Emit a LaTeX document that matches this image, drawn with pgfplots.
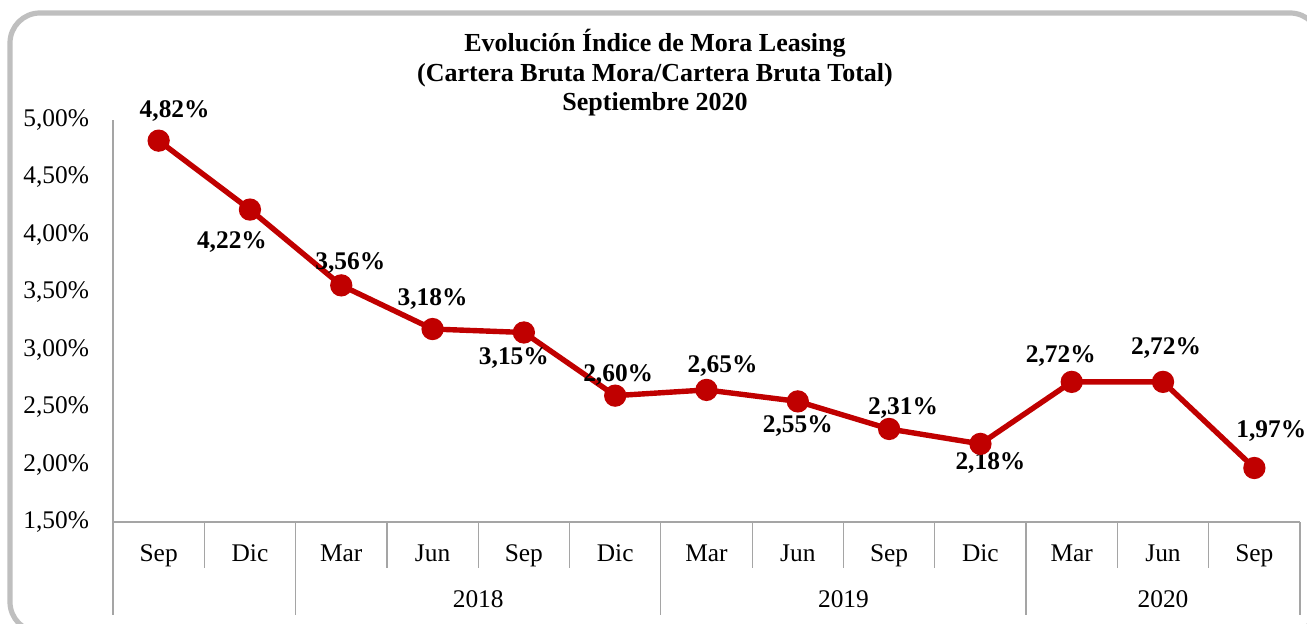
\documentclass[border=0pt]{standalone}
\usepackage{fontspec}
\setmainfont{Liberation Serif}
\usepackage{pgfplots}
\pgfplotsset{compat=1.18}
\definecolor{lred}{RGB}{192,0,0}
\definecolor{bordergray}{RGB}{191,191,191}
\definecolor{axgray}{RGB}{165,165,165}
\begin{document}
\begin{tikzpicture}
\useasboundingbox (0,0) rectangle (653.5pt,312pt);
\begin{scope}
\clip (0,0) rectangle (653.5pt,312pt);
\draw[bordergray, line width=2.6pt, rounded corners=15pt] (5pt,305.5pt) rectangle (660pt,-4pt);
\end{scope}
\node[font=\fontsize{13}{14.75}\selectfont\bfseries, align=center] at (327.5pt,275.5pt)
  {Evolución Índice de Mora Leasing\\(Cartera Bruta Mora/Cartera Bruta Total)\\Septiembre 2020};
\begin{axis}[
  at={(56.5pt,51pt)}, anchor=south west,
  scale only axis, width=593.5pt, height=201pt,
  xmin=-0.5, xmax=12.5, ymin=1.5, ymax=5.0,
  clip=false,
  axis x line*=bottom, axis y line*=left,
  axis line style={axgray, line width=0.6pt, -},
  major tick length=0pt,
  ytick={1.5,2.0,2.5,3.0,3.5,4.0,4.5,5.0},
  yticklabels={{1,50\%},{2,00\%},{2,50\%},{3,00\%},{3,50\%},{4,00\%},{4,50\%},{5,00\%}},
  y tick label style={font=\fontsize{12.7}{14}\selectfont, xshift=-8.5pt},
  xtick={0,1,2,3,4,5,6,7,8,9,10,11,12},
  xticklabels={Sep,Dic,Mar,Jun,Sep,Dic,Mar,Jun,Sep,Dic,Mar,Jun,Sep},
  x tick label style={font=\fontsize{12.7}{14}\selectfont, anchor=base, yshift=-20pt},
]
\addplot[lred, line width=2.7pt, mark=*, mark size=4.2pt, mark options={fill=lred, draw=lred}]
  coordinates {(0,4.82) (1,4.22) (2,3.56) (3,3.18) (4,3.15) (5,2.60) (6,2.65) (7,2.55) (8,2.31) (9,2.18) (10,2.72) (11,2.72) (12,1.97)};
% separators
\draw[axgray, line width=0.6pt] (axis cs:-0.5,1.5) -- ++(0pt,-46.5pt);
\draw[axgray, line width=0.6pt] (axis cs:0.5,1.5) -- ++(0pt,-23pt);
\draw[axgray, line width=0.6pt] (axis cs:1.5,1.5) -- ++(0pt,-46.5pt);
\draw[axgray, line width=0.6pt] (axis cs:2.5,1.5) -- ++(0pt,-23pt);
\draw[axgray, line width=0.6pt] (axis cs:3.5,1.5) -- ++(0pt,-23pt);
\draw[axgray, line width=0.6pt] (axis cs:4.5,1.5) -- ++(0pt,-23pt);
\draw[axgray, line width=0.6pt] (axis cs:5.5,1.5) -- ++(0pt,-46.5pt);
\draw[axgray, line width=0.6pt] (axis cs:6.5,1.5) -- ++(0pt,-23pt);
\draw[axgray, line width=0.6pt] (axis cs:7.5,1.5) -- ++(0pt,-23pt);
\draw[axgray, line width=0.6pt] (axis cs:8.5,1.5) -- ++(0pt,-23pt);
\draw[axgray, line width=0.6pt] (axis cs:9.5,1.5) -- ++(0pt,-46.5pt);
\draw[axgray, line width=0.6pt] (axis cs:10.5,1.5) -- ++(0pt,-23pt);
\draw[axgray, line width=0.6pt] (axis cs:11.5,1.5) -- ++(0pt,-23pt);
\draw[axgray, line width=0.6pt] (axis cs:12.5,1.5) -- ++(0pt,-46.5pt);
% year labels
\node[font=\fontsize{12.7}{14}\selectfont, anchor=base] at ([yshift=-43pt]axis cs:3.5,1.5) {2018};
\node[font=\fontsize{12.7}{14}\selectfont, anchor=base] at ([yshift=-43pt]axis cs:7.5,1.5) {2019};
\node[font=\fontsize{12.7}{14}\selectfont, anchor=base] at ([yshift=-43pt]axis cs:11,1.5) {2020};
% data labels
\tikzset{dl/.style={font=\fontsize{12.7}{14}\selectfont\bfseries, inner sep=0pt}}
\node[dl] at ([xshift=8pt,yshift=15pt]axis cs:0,4.82) {4,82\%};
\node[dl] at ([xshift=-9pt,yshift=-16pt]axis cs:1,4.22) {4,22\%};
\node[dl] at ([xshift=4.5pt,yshift=11pt]axis cs:2,3.56) {3,56\%};
\node[dl] at ([xshift=0pt,yshift=15pt]axis cs:3,3.18) {3,18\%};
\node[dl] at ([xshift=-5pt,yshift=-13pt]axis cs:4,3.15) {3,15\%};
\node[dl] at ([xshift=1.5pt,yshift=10.5pt]axis cs:5,2.60) {2,60\%};
\node[dl] at ([xshift=8pt,yshift=12pt]axis cs:6,2.65) {2,65\%};
\node[dl] at ([xshift=0pt,yshift=-12.5pt]axis cs:7,2.55) {2,55\%};
\node[dl] at ([xshift=7pt,yshift=10.5pt]axis cs:8,2.31) {2,31\%};
\node[dl] at ([xshift=5pt,yshift=-9.5pt]axis cs:9,2.18) {2,18\%};
\node[dl] at ([xshift=-5.5pt,yshift=13pt]axis cs:10,2.72) {2,72\%};
\node[dl] at ([xshift=1.5pt,yshift=17pt]axis cs:11,2.72) {2,72\%};
\node[dl] at ([xshift=8.5pt,yshift=18.5pt]axis cs:12,1.97) {1,97\%};
\end{axis}
\end{tikzpicture}
\end{document}
